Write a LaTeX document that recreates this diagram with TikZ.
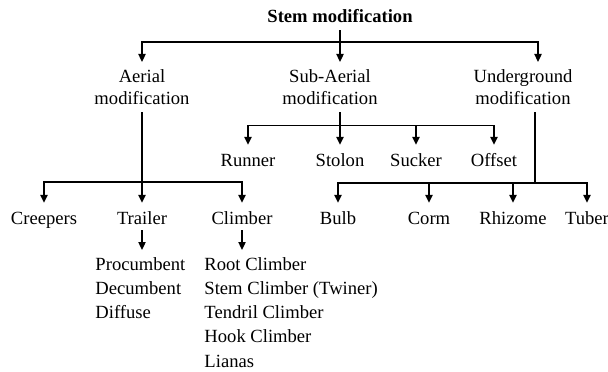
\documentclass[tikz,border=0pt]{standalone}
\usepackage{fontspec}
\setmainfont{Liberation Serif}
\usetikzlibrary{arrows.meta}

\begin{document}
\begin{tikzpicture}[x=0.5pt, y=-0.5pt, thick,
  >={Triangle[length=4pt,width=3.6pt]},
  every node/.style={font=\fontsize{9.3}{11}\selectfont, align=center},
  leaf/.style={text height=0.7em, text depth=0.22em},
  sublist/.style={font=\fontsize{9.3}{12.1}\selectfont, align=left, anchor=north west}]
\useasboundingbox (0,0) rectangle (608,371);

\node (stem) at (340,16) {\bfseries Stem modification};
\node (aerial) at (142,87) {Aerial\\modification};
\node (subaer) at (330,87) {Sub-Aerial\\modification};
\node (under) at (523,87) {Underground\\modification};

\coordinate (j0) at (340,42);
\draw (stem) -- (j0);
\draw[->] (j0) -| (aerial);
\draw[->] (j0) -- (j0 |- subaer.north);
\draw[->] (j0) -| ([xshift=7.5pt]under.north);

% sub-aerial
\node[leaf] (runner) at (248,161.5) {Runner};
\node[leaf] (stolon) at (340,161.5) {Stolon};
\node[leaf] (sucker) at (416,161.5) {Sucker};
\node[leaf] (offset) at (494,161.5) {Offset};
\coordinate (j1) at (340,125.5);
\draw (subaer.south -| j1) -- (j1);
\draw[->] (j1) -| (runner);
\draw[->] (j1) -- (stolon);
\draw[->] (j1) -| (sucker);
\draw[->] (j1) -| (offset);

% aerial
\node[leaf] (creepers) at (44,219.5) {Creepers};
\node[leaf] (trailer) at (142,219.5) {Trailer};
\node[leaf] (climber) at (242,219.5) {Climber};
\coordinate (j2) at (142,182);
\draw[->] (aerial) -- (trailer);
\draw[->] (j2) -| (creepers);
\draw[->] (j2) -| (climber);

\node[sublist] (trlist) at (88,250) {Procumbent\\Decumbent\\Diffuse};
\node[sublist] (cllist) at (197,250) {Root Climber\\Stem Climber (Twiner)\\Tendril Climber\\Hook Climber\\Lianas};
\draw[->, shorten <=-3pt] (trailer) -- (trailer |- trlist.north);
\draw[->, shorten <=-3pt] (climber) -- (climber |- cllist.north);

% underground
\node[leaf] (bulb) at (338,219.5) {Bulb};
\node[leaf] (corm) at (429,219.5) {Corm};
\node[leaf] (rhizome) at (513,219.5) {Rhizome};
\node[leaf] (tuber) at (587,219.5) {Tuber};
\coordinate (j3) at (535,183);
\draw (under.south -| j3) -- (j3);
\draw[->] (j3) -| (bulb);
\draw[->] (j3) -| (corm);
\draw[->] (j3) -| (rhizome);
\draw[->] (j3) -| (tuber);
\end{tikzpicture}
\end{document}
